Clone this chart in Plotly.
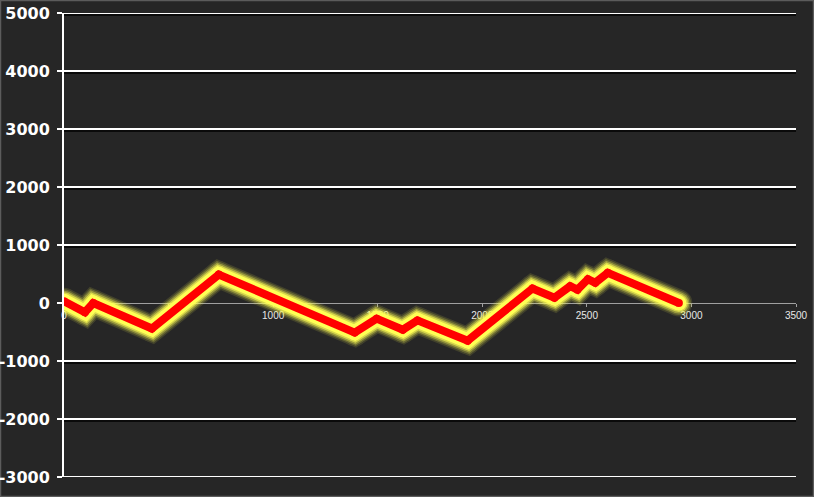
import plotly.graph_objects as go

# Data
x_vals = [0, 100, 140, 420, 740, 1390, 1495, 1620, 1690, 1930, 2240, 2345, 2420, 2455, 2505, 2540, 2600, 2940]
y_vals = [30, -160, 0, -440, 490, -510, -270, -460, -300, -650, 250, 90, 290, 230, 410, 350, 520, 0]

y_ticks = [-3000, -2000, -1000, 0, 1000, 2000, 3000, 4000, 5000]
y_tick_labels = ["-3000", "-2000", "-1000", "0", "1000", "2000", "3000", "4000", "5000"]
x_ticks = [0, 500, 1000, 1500, 2000, 2500, 3000, 3500]
x_tick_labels = ["0", "500", "1000", "1500", "2000", "2500", "3000", "3500"]

W, H = 814, 497
ML, MR, MT, MB = 64, 18, 13, 20
pw, ph = W - ML - MR, H - MT - MB

fig = go.Figure()

# glow layers (round joins via markers)
for w, op in [(27, 0.12), (24, 0.2), (21, 0.35), (18, 0.6), (15, 1.0)]:
    fig.add_trace(go.Scatter(x=x_vals, y=y_vals, mode="lines+markers",
                             line=dict(color="#ffff55", width=w),
                             marker=dict(color="#ffff55", size=w, line=dict(width=0)),
                             opacity=op, hoverinfo="skip", showlegend=False))
fig.add_trace(go.Scatter(x=x_vals, y=y_vals, mode="lines+markers",
                         line=dict(color="#ff0000", width=8),
                         marker=dict(color="#ff0000", size=8, line=dict(width=0)),
                         showlegend=False))

shapes = []
# gridlines (skip 0) with shadow
for v in y_ticks:
    if v == 0:
        continue
    shapes.append(dict(type="line", xref="x", yref="y", x0=0, x1=3500,
                       ysizemode="pixel", yanchor=v, y0=-2, y1=-2,
                       line=dict(color="#0a0a0a", width=2), layer="below"))
    shapes.append(dict(type="line", xref="x", yref="y", x0=0, x1=3500,
                       y0=v, y1=v, line=dict(color="#ffffff", width=2), layer="below"))
# figure border
shapes.append(dict(type="rect", xref="paper", yref="paper",
                   x0=-ML / pw + 0.5 / pw, x1=1 + MR / pw - 0.5 / pw,
                   y0=-MB / ph + 0.5 / ph, y1=1 + MT / ph - 0.5 / ph,
                   line=dict(color="#5c5c5c", width=1.5), layer="below"))

fig.update_layout(
    width=W, height=H,
    margin=dict(l=ML, r=MR, t=MT, b=MB, autoexpand=False),
    paper_bgcolor="#262626", plot_bgcolor="#262626",
    shapes=shapes,
    showlegend=False,
    xaxis=dict(range=[0, 3500], tickvals=x_ticks, ticktext=x_tick_labels,
               showgrid=False, zeroline=False, showline=True, automargin=False,
               linecolor="#a0a0a0", linewidth=1,
               ticks="outside", ticklen=3, tickcolor="#a0a0a0", tickwidth=1,
               tickfont=dict(family="Liberation Sans, Arial", size=10, color="#e8e8e8"),
               anchor="free", position=3000 / 8000, layer="below traces"),
    yaxis=dict(range=[-3000, 5000], tickvals=y_ticks, ticktext=y_tick_labels,
               showgrid=False, zeroline=False, showline=True, automargin=False,
               linecolor="#ffffff", linewidth=2,
               ticks="outside", ticklen=5, tickcolor="#ffffff", tickwidth=2,
               ticklabelstandoff=4,
               tickfont=dict(family="DejaVu Sans", size=16, color="#ffffff", weight="bold")),
)

fig.write_html("out.html", config={"displayModeBar": False},
               post_script="document.body.style.margin='0';document.body.style.background='#262626';")
